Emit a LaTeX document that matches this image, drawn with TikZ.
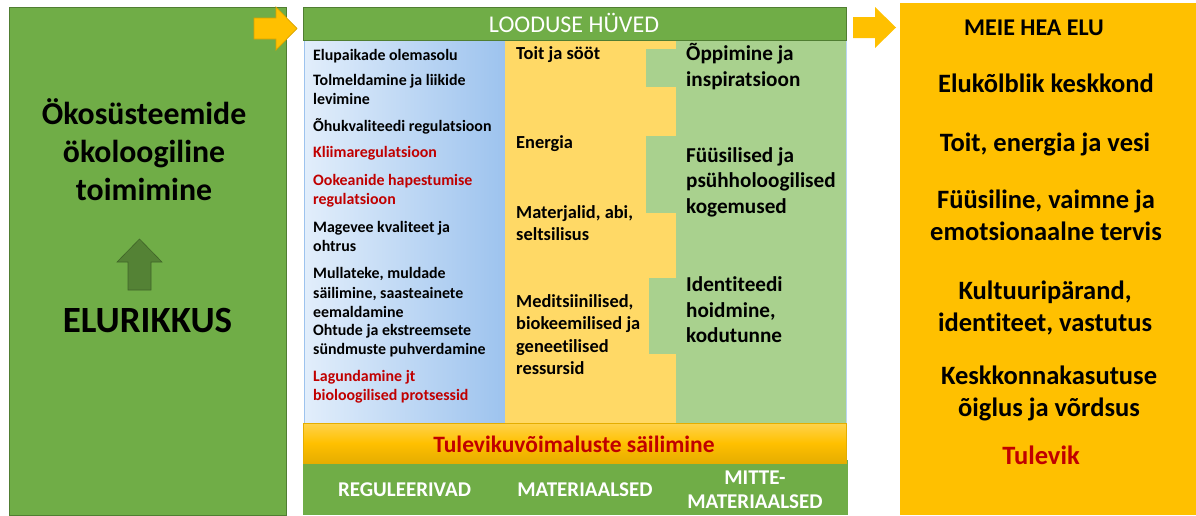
\documentclass[tikz,border=0pt]{standalone}
\usepackage{fontspec}
\setmainfont[Ligatures={NoCommon}]{Carlito}
\definecolor{gfill}{HTML}{70AD47}
\definecolor{gline}{HTML}{507E32}
\definecolor{dgreen}{HTML}{548235}
\definecolor{orng}{HTML}{FFC000}
\definecolor{orngline}{HTML}{D9A300}
\definecolor{yel}{HTML}{FFD966}
\definecolor{lgreen}{HTML}{A9D18E}
\definecolor{bluel}{HTML}{E2EEFB}
\definecolor{bluer}{HTML}{9DC3EE}
\definecolor{dred}{HTML}{C00000}
\tikzset{
  bluetxt/.style={font=\fontsize{15.9}{19.2}\selectfont\bfseries, anchor=west, align=left, inner sep=0pt},
  yeltxt/.style={font=\fontsize{18.4}{22.4}\selectfont\bfseries, anchor=west, align=left, inner sep=0pt},
  grntxt/.style={font=\fontsize{21.2}{25.5}\selectfont\bfseries, anchor=west, align=left, inner sep=0pt},
  righttxt/.style={font=\fontsize{26.5}{32}\selectfont\bfseries, align=center, inner sep=0pt},
  bottxt/.style={font=\fontsize{21}{24}\selectfont\bfseries, align=center, inner sep=0pt, text=white},
}
\begin{document}
\begin{tikzpicture}[x=1pt,y=-1pt]
\useasboundingbox (0,0) rectangle (1196,515);
% left box
\draw[fill=gfill, draw=gline, line width=0.8pt] (9,7) rectangle (286,515);
\node[font=\fontsize{31.8}{38}\selectfont\bfseries, align=center, inner sep=0pt] (eco) at (144,150) {Ökosüsteemide\\ökoloogiline\\toimimine};
\node[font=\fontsize{37}{44}\selectfont\bfseries, inner sep=0pt] (elu) at (147.5,320) {ELURIKKUS};
\draw[fill=dgreen, draw=gline!80!black, line width=0.6pt] (128,290) -- (128,262) -- (117,262) -- (139.5,239) -- (162,262) -- (151,262) -- (151,290) -- cycle;
% arrow 1
\draw[fill=orng, draw=orngline, line width=0.7pt] (254,18) -- (276,18) -- (276,7) -- (297,28.5) -- (276,50) -- (276,39) -- (254,39) -- cycle;
% middle columns
\shade[left color=bluel, right color=bluer] (304,40) rectangle (505,423);
\fill[yel] (505,40) rectangle (676,423);
\fill[lgreen] (676,40) rectangle (846,423);
\fill[lgreen] (646,49) rectangle (676,87);
\fill[lgreen] (646,136) rectangle (676,213);
\fill[lgreen] (649,278) rectangle (676,354);
\draw[bluer, line width=1pt] (304,40) -- (304,423);
\draw[bluer!70!white, line width=0.8pt] (846,40) -- (846,423);
% header
\draw[fill=gfill, draw=gline, line width=0.8pt] (303,7) rectangle (846,40);
\node[font=\fontsize{24}{28}\selectfont, text=white, inner sep=0pt] (hdr) at (574,23) {LOODUSE HÜVED};
% bottom bands
\fill[gfill] (303,460) rectangle (848,515);
\shade[top color=orng!70!white, bottom color=orng!90!black, middle color=orng] (303,423) rectangle (846,463);
\draw[orng!90!black, line width=0.8pt] (303,423) rectangle (846,463);
\node[font=\fontsize{23.5}{28}\selectfont\bfseries, text=dred, inner sep=0pt] (tul) at (574,444) {Tulevikuvõimaluste säilimine};
\node[bottxt] (reg) at (404.5,490) {REGULEERIVAD};
\node[bottxt] (mat) at (585,490) {MATERIAALSED};
\node[bottxt] (mitte) at (755,490) {MITTE-\\MATERIAALSED};
% blue column texts
\node[bluetxt] (b1) at (313,56) {Elupaikade olemasolu};
\node[bluetxt] (b2) at (313,89.5) {Tolmeldamine ja liikide\\levimine};
\node[bluetxt] (b3) at (313,126) {Õhukvaliteedi regulatsioon};
\node[bluetxt, text=dred] (b4) at (313,153) {Kliimaregulatsioon};
\node[bluetxt, text=dred] (b5) at (313,190.5) {Ookeanide hapestumise\\regulatsioon};
\node[bluetxt] (b6) at (313,236.5) {Magevee kvaliteet ja\\ohtrus};
\node[bluetxt] (b7) at (313,292.5) {Mullateke, muldade\\säilimine, saasteainete\\eemaldamine};
\node[bluetxt] (b8) at (313,340.5) {Ohtude ja ekstreemsete\\sündmuste puhverdamine};
\node[bluetxt, text=dred] (b9) at (313,387) {Lagundamine jt\\bioloogilised protsessid};
% yellow column texts
\node[yeltxt] (y1) at (516,55) {Toit ja sööt};
\node[yeltxt] (y2) at (516,144) {Energia};
\node[yeltxt] (y3) at (516,223) {Materjalid, abi,\\seltsilisus};
\node[yeltxt] (y4) at (516,334.5) {Meditsiinilised,\\biokeemilised ja\\geneetilised\\ressursid};
% green column texts
\node[grntxt] (g1) at (686,66.5) {Õppimine ja\\inspiratsioon};
\node[grntxt] (g2) at (686,182) {Füüsilised ja\\psühholoogilised\\kogemused};
\node[grntxt] (g3) at (686,310) {Identiteedi\\hoidmine,\\kodutunne};
% arrow 2
\fill[orng] (853,17) -- (875,17) -- (875,7) -- (896,27.5) -- (875,48) -- (875,38) -- (853,38) -- cycle;
% right box
\fill[orng] (900,3) rectangle (1196,515);
\node[font=\fontsize{24}{28}\selectfont\bfseries, inner sep=0pt] (meie) at (1034,28) {MEIE HEA ELU};
\node[righttxt] (r1) at (1046,83) {Elukõlblik keskkond};
\node[righttxt] (r2) at (1045,144) {Toit, energia ja vesi};
\node[righttxt] (r3) at (1046,215) {Füüsiline, vaimne ja\\emotsionaalne tervis};
\node[righttxt] (r4) at (1045,307.5) {Kultuuripärand,\\identiteet, vastutus};
\node[righttxt] (r5) at (1049,393) {Keskkonnakasutuse\\õiglus ja võrdsus};
\node[righttxt, text=dred] (r6) at (1041,455) {Tulevik};
\end{tikzpicture}
\end{document}
